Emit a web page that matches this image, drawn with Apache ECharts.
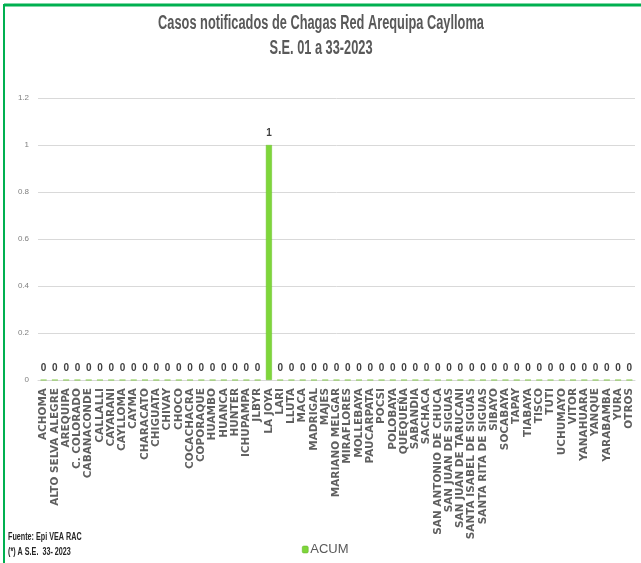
<!DOCTYPE html>
<html>
<head>
<meta charset="utf-8">
<script src="https://cdn.jsdelivr.net/npm/echarts@6/dist/echarts.min.js"></script>
<style>
  html, body { margin: 0; padding: 0; background: #fff; }
  #chart { width: 641px; height: 563px; }
</style>
</head>
<body>
<div id="chart"></div>
<script>
// distritos
const districts = [
  'ACHOMA', 'ALTO SELVA ALEGRE', 'AREQUIPA', 'C. COLORADO', 'CABANACONDE', 'CALLALLI',
  'CAYARANI', 'CAYLLOMA', 'CAYMA', 'CHARACATO', 'CHIGUATA', 'CHIVAY', 'CHOCO',
  'COCACHACRA', 'COPORAQUE', 'HUAMBO', 'HUANCA', 'HUNTER', 'ICHUPAMPA', 'JLBYR',
  'LA JOYA', 'LARI', 'LLUTA', 'MACA', 'MADRIGAL', 'MAJES', 'MARIANO MELGAR',
  'MIRAFLORES', 'MOLLEBAYA', 'PAUCARPATA', 'POCSI', 'POLOBAYA', 'QUEQUEÑA',
  'SABANDIA', 'SACHACA', 'SAN ANTONIO DE CHUCA', 'SAN JUAN DE SIGUAS',
  'SAN JUAN DE TARUCANI', 'SANTA ISABEL DE SIGUAS', 'SANTA RITA DE SIGUAS',
  'SIBAYO', 'SOCABAYA', 'TAPAY', 'TIABAYA', 'TISCO', 'TUTI', 'UCHUMAYO', 'VITOR',
  'YANAHUARA', 'YANQUE', 'YARABAMBA', 'YURA', 'OTROS'
]
// casos acumulados
const acum = [
  0, 0, 0, 0, 0, 0,
  0, 0, 0, 0, 0, 0, 0,
  0, 0, 0, 0, 0, 0, 0,
  1, 0, 0, 0, 0, 0, 0,
  0, 0, 0, 0, 0, 0,
  0, 0, 0, 0,
  0, 0, 0,
  0, 0, 0, 0, 0, 0, 0, 0,
  0, 0, 0, 0, 0
]
const yTicks = { min: 0, max: 1.2, interval: 0.2 }

// the source image is horizontally squeezed, so texts get a scaleX
const narrow = 0.64
const titleFont = 'bold 20px "Liberation Sans", Arial, sans-serif'
const noteFont = 'bold 10px "Liberation Sans", Arial, sans-serif'

const chart = echarts.init(document.getElementById('chart'))
const option = {
  backgroundColor: '#fff',
  animation: false,
  legend: {
    bottom: 2,
    left: 297,
    itemWidth: 6,
    itemHeight: 7,
    itemGap: 3,
    itemStyle: { borderColor: '#5fae22', borderWidth: 0.5 },
    textStyle: {
      fontFamily: 'Liberation Sans, Arial, sans-serif',
      fontSize: 13,
      color: '#595959',
      padding: [0, 0, 0, -3]
    },
    data: ['ACUM']
  },
  grid: {
    top: 98,
    left: 38,
    right: 6,
    bottom: 183
  },
  xAxis: {
    type: 'category',
    data: districts,
    axisTick: { show: false },
    axisLine: { lineStyle: { color: '#d9d9d9' } },
    axisLabel: {
      interval: 0,
      rotate: 90,
      margin: 8,
      fontFamily: 'DejaVu Sans, Verdana, sans-serif',
      fontWeight: 'bold',
      fontSize: 10.5,
      color: '#5f5f5f'
    }
  },
  yAxis: {
    type: 'value',
    min: yTicks.min,
    max: yTicks.max,
    interval: yTicks.interval,
    axisLine: { show: false },
    axisTick: { show: false },
    splitLine: { lineStyle: { color: '#d9d9d9' } },
    axisLabel: {
      margin: 9,
      fontFamily: 'Liberation Sans, Arial, sans-serif',
      fontSize: 8,
      color: '#7f7f7f'
    }
  },
  series: [{
    name: 'ACUM',
    type: 'bar',
    data: acum,
    barWidth: 6,
    itemStyle: {
      color: '#7ed63a',
      borderColor: '#6cc02a',
      borderWidth: 0.5
    },
    label: {
      show: true,
      position: 'top',
      distance: 7,
      fontFamily: 'Liberation Sans, Arial, sans-serif',
      fontWeight: 'bold',
      fontSize: 10,
      color: '#404040'
    }
  }],
  graphic: [
    {
      type: 'line',
      shape: { x1: 4, y1: 5, x2: 641, y2: 5 },
      style: { stroke: '#00b050', lineWidth: 3 }
    },
    {
      type: 'line',
      shape: { x1: 4, y1: 4, x2: 4, y2: 563 },
      style: { stroke: '#00b050', lineWidth: 2 }
    },
    {
      type: 'text',
      x: 321,
      y: 23,
      scaleX: narrow,
      style: {
        text: 'Casos notificados de Chagas Red Arequipa Caylloma',
        font: titleFont,
        fill: '#595959',
        textAlign: 'center',
        textVerticalAlign: 'middle'
      }
    },
    {
      type: 'text',
      x: 321,
      y: 48,
      scaleX: narrow,
      style: {
        text: 'S.E. 01 a 33-2023',
        font: titleFont,
        fill: '#595959',
        textAlign: 'center',
        textVerticalAlign: 'middle'
      }
    },
    {
      type: 'text',
      x: 8,
      y: 537,
      scaleX: 0.72,
      style: {
        text: 'Fuente: Epi VEA RAC',
        font: noteFont,
        fill: '#262626',
        textVerticalAlign: 'middle'
      }
    },
    {
      type: 'text',
      x: 8,
      y: 552,
      scaleX: 0.72,
      style: {
        text: '(*) A S.E.  33- 2023',
        font: noteFont,
        fill: '#262626',
        textVerticalAlign: 'middle'
      }
    }
  ]
}
chart.setOption(option)
</script>
</body>
</html>
